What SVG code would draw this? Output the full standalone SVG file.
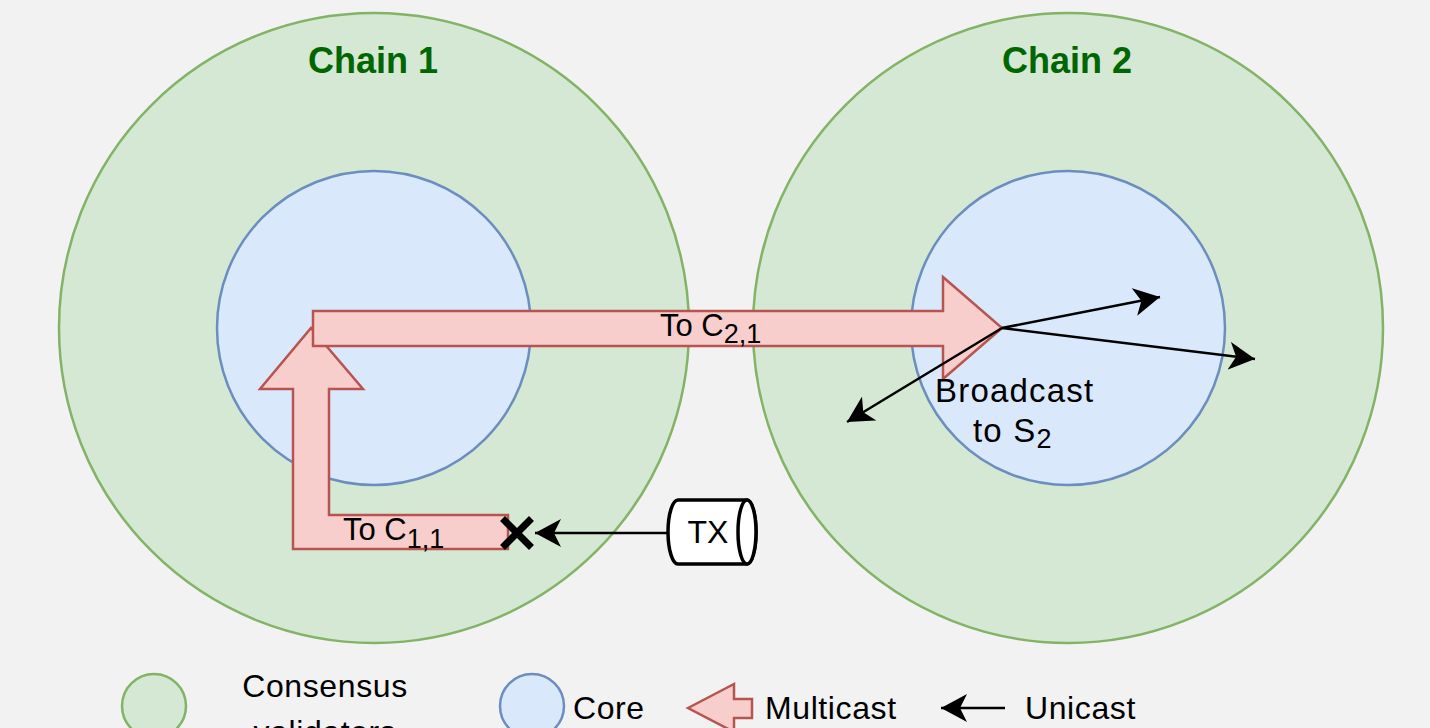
<svg xmlns="http://www.w3.org/2000/svg" width="1430" height="728" viewBox="0 0 1430 728">
  <defs>
    <style>
      .outer { fill: #d5e8d4; stroke: #82b366; stroke-width: 2.5; }
      .inner { fill: #dae8fc; stroke: #6c8ebf; stroke-width: 2.5; }
      .multi { fill: #f8cecc; stroke: #b85450; stroke-width: 2.5; stroke-linejoin: miter; }
      .uni { fill: none; stroke: #000; stroke-width: 2.5; }
      .title { font-family: "Liberation Sans", Arial, sans-serif; font-weight: bold; font-size: 36px; fill: #006600; text-anchor: middle; }
      .lbl { font-family: "Liberation Sans", Arial, sans-serif; font-size: 32px; fill: #000; letter-spacing: 0.6px; }
      .bc { font-family: "Liberation Sans", Arial, sans-serif; font-size: 33px; fill: #000; letter-spacing: 1.2px; }
      .elbl { font-family: "Liberation Sans", Arial, sans-serif; font-size: 31px; fill: #000; }
      .sub { font-size: 27px; letter-spacing: 0; }
    </style>
    <marker id="arr" viewBox="0 0 26 28" refX="26" refY="14" markerWidth="26" markerHeight="28" markerUnits="userSpaceOnUse" orient="auto">
      <path d="M26,14 L0,0 L7,14 L0,28 Z" fill="#000"/>
    </marker>
  </defs>
  <rect x="0" y="0" width="1430" height="728" fill="#f2f2f2"/>

  <g id="chain1">
    <circle class="outer" cx="374" cy="328" r="315"/>
    <text class="title" x="373" y="73">Chain 1</text>
  </g>
  <g id="chain2">
    <circle class="outer" cx="1068" cy="328" r="315"/>
    <text class="title" x="1067" y="73">Chain 2</text>
  </g>
  <g id="core1">
    <circle class="inner" cx="374" cy="328" r="157"/>
  </g>
  <g id="core2">
    <circle class="inner" cx="1068" cy="328" r="157"/>
  </g>

  <g id="tx">
    <path d="M678,500 L747,500 A9,32 0 0 1 747,564 L678,564 A10,32 0 0 1 678,500 Z" fill="#fff" stroke="#000" stroke-width="3.5"/>
    <ellipse cx="747" cy="532" rx="9" ry="32" fill="#fff" stroke="#000" stroke-width="3.5"/>
    <text class="lbl" x="708" y="543" text-anchor="middle" style="letter-spacing:0">TX</text>
  </g>

  <g id="connectors">
    <path id="multicast1" class="multi" d="M508,515 L329,515 L329,389 L363,389 L311,328 L260,389 L293,389 L293,549 L508,549 Z"/>
    <path id="multicast2" class="multi" d="M313,311 L943,311 L943,277 L1002,328 L943,379 L943,346 L313,346 Z"/>
    <text class="elbl" x="660" y="336">To C<tspan class="sub" dy="7">2,1</tspan></text>
    <text class="elbl" x="343" y="540">To C<tspan class="sub" dy="8">1,1</tspan></text>

    <line class="uni" x1="668" y1="533" x2="535" y2="533" marker-end="url(#arr)"/>
    <g id="cross" stroke="#000" stroke-width="7" stroke-linecap="square">
      <line x1="505" y1="521" x2="529" y2="545"/>
      <line x1="529" y1="521" x2="505" y2="545"/>
    </g>

    <line class="uni" x1="1002" y1="328" x2="1160" y2="297" marker-end="url(#arr)"/>
    <line class="uni" x1="1002" y1="328" x2="1255" y2="359" marker-end="url(#arr)"/>
    <line class="uni" x1="1002" y1="328" x2="847" y2="422" marker-end="url(#arr)"/>
    <text class="bc" x="935" y="402">Broadcast</text>
    <text class="bc" x="973" y="442">to S<tspan class="sub" dy="6">2</tspan></text>
  </g>

  <g id="legend">
    <g id="legend-consensus">
      <circle class="outer" cx="154" cy="706" r="32"/>
      <text class="lbl" x="325" y="697" text-anchor="middle">Consensus</text>
      <text class="lbl" x="325" y="743" text-anchor="middle">validators</text>
    </g>
    <g id="legend-core">
      <circle class="inner" cx="532" cy="706" r="32"/>
      <text class="lbl" x="573" y="719">Core</text>
    </g>
    <g id="legend-multicast">
      <path class="multi" d="M688,708 L734,684 L734,699 L752,699 L752,718 L734,718 L734,732 Z"/>
      <text class="lbl" x="765" y="719">Multicast</text>
    </g>
    <g id="legend-unicast">
      <line class="uni" x1="1005" y1="708" x2="941" y2="708" marker-end="url(#arr)"/>
      <text class="lbl" x="1025" y="719">Unicast</text>
    </g>
  </g>
</svg>
